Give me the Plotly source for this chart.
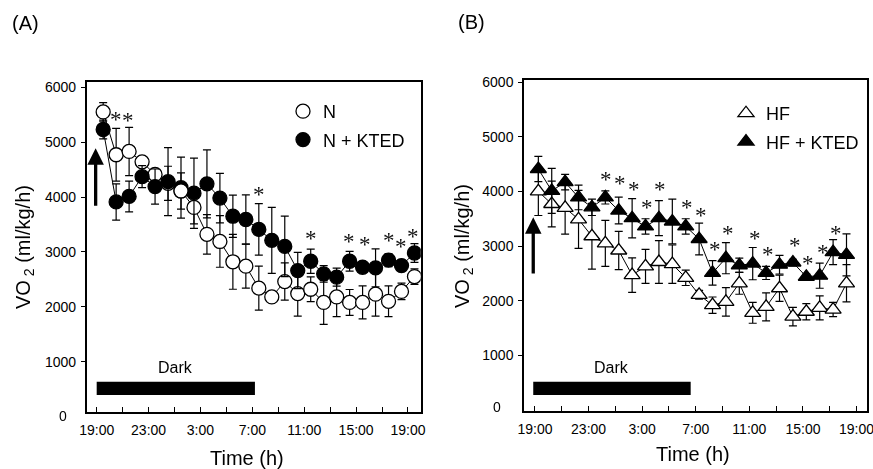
import plotly.graph_objects as go

# ---------------- data ----------------
# hours after 19:00 (x positions of the hourly samples)
hours_A = [0.5, 1.5, 2.5, 3.5, 4.5, 5.5, 6.5, 7.5, 8.5, 9.5, 10.5, 11.5, 12.5,
           13.5, 14.5, 15.5, 16.5, 17.5, 18.5, 19.5, 20.5, 21.5, 22.5, 23.5, 24.5]
N_vals = [5550, 4770, 4830, 4640, 4410, 4250, 4110, 3810, 3320, 3190, 2820, 2740, 2340,
          2180, 2460, 2240, 2320, 2080, 2180, 2080, 2080, 2230, 2100, 2280, 2550]
N_err = [170, 480, 440, 100, 80, 310, 330, 300, 360, 470, 500, 400, 400,
         60, 340, 410, 225, 400, 360, 235, 300, 400, 280, 150, 140]
NK_vals = [5230, 3910, 4010, 4370, 4190, 4280, 4170, 4070, 4240, 3980, 3650, 3590, 3410,
           3210, 3100, 2660, 2830, 2600, 2540, 2830, 2720, 2710, 2850, 2750, 2980]
NK_err = [170, 330, 280, 200, 320, 620, 555, 640, 620, 450, 385, 450, 470,
          600, 550, 330, 220, 150, 165, 180, 100, 345, 120, 100, 170]

hours_B = [0.25, 1.25, 2.25, 3.25, 4.25, 5.25, 6.25, 7.25, 8.25, 9.25, 10.25, 11.25,
           12.25, 13.25, 14.25, 15.25, 16.25, 17.25, 18.25, 19.25, 20.25, 21.25, 22.25, 23.25]
HF_vals = [4000, 3770, 3700, 3490, 3180, 3050, 2920, 2470, 2630, 2710, 2670, 2420,
           2110, 1920, 1980, 2320, 1780, 1890, 2230, 1710, 1800, 1870, 1840, 2320]
HF_err = [440, 420, 480, 530, 600, 420, 350, 315, 310, 390, 350, 140,
          80, 150, 260, 200, 190, 255, 240, 170, 150, 220, 130, 340]
HFK_vals = [4410, 4010, 4170, 3890, 3710, 3890, 3650, 3510, 3360, 3510, 3450, 3360,
            3130, 2510, 2780, 2650, 2680, 2510, 2660, 2700, 2440, 2460, 2890, 2840]
HFK_err = [230, 410, 140, 225, 150, 120, 245, 360, 140, 320, 410, 140,
           290, 225, 285, 130, 295, 120, 170, 60, 50, 230, 230, 385]

# significance asterisks (hour, VO2 level)
star_A_x = [1.48, 2.43, 12.5, 16.54, 19.48, 20.71, 22.52, 23.46, 24.35]
star_A_y = [5463, 5452, 4097, 3299, 3248, 3186, 3257, 3149, 3344]
star_B_x = [5.28, 6.34, 7.39, 8.38, 9.33, 11.34, 12.39, 13.4, 14.37, 16.44, 17.41,
            19.4, 20.41, 21.47, 22.43]
star_B_y = [4269, 4196, 4099, 3770, 4099, 3761, 3611, 2984, 3294, 3194, 2907,
            3066, 2728, 2947, 3294]

tick_hours = [0, 2, 4, 6, 8, 10, 12, 14, 16, 18, 20, 22, 24]
tick_text = ["19:00", "", "23:00", "", "3:00", "", "7:00", "", "11:00", "", "15:00", "", "19:00"]
y_ticks = [1000, 2000, 3000, 4000, 5000, 6000]

# dark period (hours) and arrows (hour, from, to)
dark_A = (0.0, 12.2, 393, 636)
dark_B = (-0.13, 11.62, 278, 521)
arrow_A = (-0.08, 3812, 4887)
arrow_B = (-0.13, 2472, 3527)

W, H = 873, 469
FONT = "Arial, Liberation Sans, sans-serif"
BLK = "black"


def px(x):
    return x / W


def py(y):
    return 1 - y / H


fig = go.Figure()

err_style = dict(type="data", visible=True, color=BLK, thickness=1.2, width=4)
line_style = dict(color=BLK, width=1)

# Panel A
fig.add_trace(go.Scatter(x=hours_A, y=N_vals, mode="lines+markers", xaxis="x", yaxis="y",
                         line=line_style, error_y=dict(array=N_err, **err_style),
                         marker=dict(symbol="circle", size=14, color="white",
                                     line=dict(color=BLK, width=1.3)),
                         showlegend=False))
fig.add_trace(go.Scatter(x=hours_A, y=NK_vals, mode="lines+markers", xaxis="x", yaxis="y",
                         line=line_style, error_y=dict(array=NK_err, **err_style),
                         marker=dict(symbol="circle", size=14, color=BLK,
                                     line=dict(color=BLK, width=1.3)),
                         showlegend=False))
# white marker at 01:30 sits on top of the filled one in the original
fig.add_trace(go.Scatter(x=[hours_A[6]], y=[N_vals[6]], mode="markers", xaxis="x", yaxis="y",
                         marker=dict(symbol="circle", size=14, color="white",
                                     line=dict(color=BLK, width=1.3)),
                         showlegend=False))

# Panel B
fig.add_trace(go.Scatter(x=hours_B, y=HF_vals, mode="lines+markers", xaxis="x2", yaxis="y2",
                         line=line_style, error_y=dict(array=HF_err, **err_style),
                         marker=dict(symbol="triangle-up", size=14, color="white",
                                     line=dict(color=BLK, width=1.3)),
                         showlegend=False))
fig.add_trace(go.Scatter(x=hours_B, y=HFK_vals, mode="lines+markers", xaxis="x2", yaxis="y2",
                         line=line_style, error_y=dict(array=HFK_err, **err_style),
                         marker=dict(symbol="triangle-up", size=14, color=BLK,
                                     line=dict(color=BLK, width=1.3)),
                         showlegend=False))

# legend entries
for name, sym, col, leg, grp in [("N", "circle", "white", "legend", "a"),
                                 ("N + KTED", "circle", BLK, "legend", "b"),
                                 ("HF", "triangle-up", "white", "legend2", "c"),
                                 ("HF + KTED", "triangle-up", BLK, "legend2", "d")]:
    fig.add_trace(go.Scatter(x=[None], y=[None], mode="markers", name=name, legend=leg,
                             legendgroup=grp, xaxis="x" if leg == "legend" else "x2",
                             yaxis="y" if leg == "legend" else "y2",
                             marker=dict(symbol=sym, size=14, color=col,
                                         line=dict(color=BLK, width=1.3))))

xcommon = dict(tickvals=tick_hours, ticktext=tick_text, ticks="inside", ticklen=5,
               tickwidth=1.2, tickcolor=BLK, showline=True, linecolor=BLK,
               linewidth=1.5, mirror=True, showgrid=False, zeroline=False,
               tickfont=dict(size=14, color=BLK, family=FONT), ticklabelstandoff=5,
               ticklabeloverflow="allow")
ycommon = dict(tickvals=y_ticks, ticks="outside", ticklen=4, tickwidth=1.2,
               tickcolor=BLK, showline=True, linecolor=BLK, linewidth=1.5,
               mirror=True, showgrid=False, zeroline=False,
               tickfont=dict(size=14, color=BLK, family=FONT), ticklabelstandoff=2)

fig.update_layout(
    template="none",
    width=W, height=H, margin=dict(l=0, r=0, t=0, b=0, pad=0),
    paper_bgcolor="white", plot_bgcolor="white",
    font=dict(family=FONT, color=BLK),
    xaxis=dict(domain=[px(86.7), px(420.7)], range=[-0.77, 24.98], anchor="y", **xcommon),
    yaxis=dict(domain=[py(411.7), py(82)], range=[89, 6095], anchor="x", **ycommon),
    xaxis2=dict(domain=[px(524), px(867)], range=[-0.82, 24.78], anchor="y2", **xcommon),
    yaxis2=dict(domain=[py(410.7), py(80)], range=[-9, 6037], anchor="x2", **ycommon),
    legend=dict(x=px(283), y=py(93), xanchor="left", yanchor="top",
                font=dict(size=18, family=FONT, color=BLK), bgcolor="rgba(0,0,0,0)",
                tracegroupgap=2, borderwidth=0),
    legend2=dict(x=px(726), y=py(95), xanchor="left", yanchor="top",
                 font=dict(size=18, family=FONT, color=BLK), bgcolor="rgba(0,0,0,0)",
                 tracegroupgap=2, borderwidth=0),
)

shapes = []
for (x0, x1, y0, y1), xr, yr in [(dark_A, "x", "y"), (dark_B, "x2", "y2")]:
    shapes.append(dict(type="rect", xref=xr, yref=yr, x0=x0, x1=x1, y0=y0, y1=y1,
                       fillcolor=BLK, line=dict(width=0)))
fig.update_layout(shapes=shapes)

TXT = dict(family=FONT, color=BLK)
ann = []
# panel labels
ann.append(dict(text="(A)", x=px(25.5), y=py(22.5), xref="paper", yref="paper",
                showarrow=False, font=dict(size=20, **TXT), xanchor="center", yanchor="middle"))
ann.append(dict(text="(B)", x=px(471), y=py(22), xref="paper", yref="paper",
                showarrow=False, font=dict(size=20, **TXT), xanchor="center", yanchor="middle"))
# axis titles
for xc, yc in [(247, 458), (693, 454)]:
    ann.append(dict(text="Time (h)", x=px(xc), y=py(yc), xref="paper", yref="paper",
                    showarrow=False, font=dict(size=20, **TXT), xanchor="center",
                    yanchor="middle"))
for xc, yc in [(25, 247), (463, 246)]:
    ann.append(dict(text="VO<sub> 2</sub> (ml/kg/h)", x=px(xc), y=py(yc), xref="paper",
                    yref="paper", showarrow=False, font=dict(size=20, **TXT), textangle=-90,
                    xanchor="center", yanchor="middle"))
# zero labels
for xc, yc in [(63, 416), (497, 407)]:
    ann.append(dict(text="0", x=px(xc), y=py(yc), xref="paper", yref="paper",
                    showarrow=False, font=dict(size=14, **TXT), xanchor="center",
                    yanchor="middle"))
# Dark labels
ann.append(dict(text="Dark", x=6.04, y=891, xref="x", yref="y", showarrow=False,
                font=dict(size=16, **TXT)))
ann.append(dict(text="Dark", x=5.72, y=777, xref="x2", yref="y2", showarrow=False,
                font=dict(size=16, **TXT)))
# asterisks
STAR = dict(size=23, family="Liberation Serif, Times New Roman, serif", color="#111111")
for xs, ys, xr, yr in [(star_A_x, star_A_y, "x", "y"), (star_B_x, star_B_y, "x2", "y2")]:
    for sx, sy in zip(xs, ys):
        ann.append(dict(text="*", x=sx, y=sy, xref=xr, yref=yr, showarrow=False,
                        font=STAR, yshift=-3))
# arrows
for (ax_, y0, y1), xr, yr in [(arrow_A, "x", "y"), (arrow_B, "x2", "y2")]:
    ann.append(dict(text="", x=ax_, y=y1, ax=ax_, ay=y0, xref=xr, yref=yr,
                    axref=xr, ayref=yr, showarrow=True, arrowhead=2, arrowsize=1.0,
                    arrowwidth=3.3, arrowcolor=BLK, standoff=0))
fig.update_layout(annotations=ann)

post = (
    "document.body.style.margin='0';document.body.style.padding='0';"
    "document.body.style.overflow='hidden';"
    "document.querySelectorAll('.infolayer').forEach(function(e){e.style.opacity='0.999';});"
)
fig.write_html("out.html", config={"displayModeBar": False}, post_script=post)
